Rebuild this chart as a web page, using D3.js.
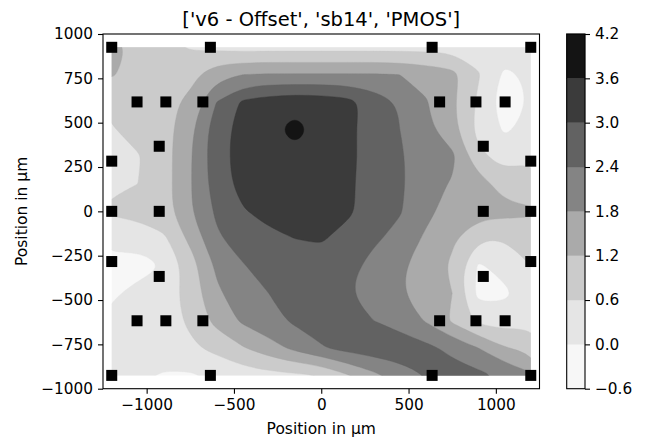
<!DOCTYPE html>
<html>
<head>
<meta charset="utf-8">
<script src="https://cdn.jsdelivr.net/npm/d3@7"></script>
<style>
body {margin: 0; background: #fff;}
text {font-family: "DejaVu Sans", sans-serif; fill: #000;}
</style>
</head>
<body>
<svg id="chart" width="649" height="438"></svg>
<script>
// contour levels (also the colorbar ticks)
var levels = [-0.6, 0.0, 0.6, 1.2, 1.8, 2.4, 3.0, 3.6, 4.2];

var gridX = [-1200, -1050, -900, -750, -600, -450, -300, -150, 0, 150, 300, 450, 600, 750, 900, 1050, 1200];
var gridY = [925, 770.8, 616.7, 462.5, 308.3, 154.2, 0, -154.2, -308.3, -462.5, -616.7, -770.8, -925];

// values per grid row, top row first
var gridValues = [
  [1.45, 1.0, 0.8, 0.55, 0.45, 0.4, 0.4, 0.4, 0.4, 0.4, 0.4, 0.4, 0.4, 0.4, 0.35, 0.3, 0.3],
  [1.25, 1.0, 0.95, 1.0, 1.6, 1.8, 1.85, 1.85, 1.85, 1.85, 1.85, 1.8, 1.6, 1.4, 0.65, -0.12, 0.1],
  [0.8, 0.9, 1.0, 1.35, 2.4, 3.1, 3.3, 3.4, 3.35, 3.2, 2.75, 2.35, 1.85, 1.3, 0.5, -0.35, 0.05],
  [0.55, 0.85, 0.95, 1.65, 2.75, 3.2, 3.45, 3.8, 3.4, 3.15, 2.7, 2.4, 1.95, 1.4, 0.4, -0.08, 0.15],
  [0.45, 0.55, 0.95, 1.75, 2.75, 3.25, 3.4, 3.45, 3.35, 3.15, 2.75, 2.5, 1.95, 1.95, 0.75, 0.35, 0.55],
  [0.5, 0.6, 0.95, 1.75, 2.7, 3.2, 3.35, 3.35, 3.35, 3.1, 2.75, 2.5, 2.0, 1.75, 1.5, 0.9, 0.8],
  [0.7, 0.85, 0.95, 1.75, 2.5, 2.95, 3.2, 3.3, 3.3, 3.1, 2.75, 2.45, 1.95, 1.55, 1.45, 1.4, 1.3],
  [0.15, 0.15, 0.5, 1.35, 2.3, 2.7, 2.85, 3.0, 3.05, 2.8, 2.5, 2.2, 1.7, 1.3, 0.65, 0.6, 0.85],
  [-0.12, -0.18, 0.0, 0.9, 1.9, 2.35, 2.7, 2.8, 2.8, 2.6, 2.2, 1.9, 1.5, 1.1, -0.08, 0.2, 0.6],
  [-0.08, 0.15, 0.3, 0.85, 1.7, 2.1, 2.4, 2.65, 2.65, 2.45, 2.0, 1.85, 1.5, 1.2, -0.2, -0.12, 0.35],
  [0.15, 0.3, 0.35, 0.7, 1.4, 1.9, 2.2, 2.5, 2.65, 2.6, 2.4, 2.15, 1.75, 1.1, 0.45, 0.3, 0.45],
  [0.3, 0.35, 0.4, 0.5, 0.75, 1.15, 1.55, 1.95, 2.35, 2.6, 2.75, 2.75, 2.55, 2.25, 1.8, 1.25, 1.0],
  [0.2, 0.15, -0.08, -0.08, 0.15, 0.3, 0.4, 0.5, 0.6, 1.15, 1.65, 2.1, 2.4, 2.65, 2.55, 2.3, 1.9]
];

// measurement sites
var pointX = [-1200, -635, 635, 1200, -1055, -890, -678, 678, 886, 1053, -928, 928, -1200, 1200,
              -1200, -928, 928, 1200, -1200, 1200, -928, 928, -1055, -890, -678, 678, 886, 1053,
              -1200, -635, 635, 1200];
var pointY = [925, 925, 925, 925, 617, 617, 617, 617, 617, 617, 367, 367, 283, 283,
              0, 0, 0, 0, -283, -283, -367, -367, -617, -617, -617, -617, -617, -617,
              -925, -925, -925, -925];

var xTicks = [-1000, -500, 0, 500, 1000];
var yTicks = [-1000, -750, -500, -250, 0, 250, 500, 750, 1000];
var title = "['v6 - Offset', 'sb14', 'PMOS']";

var colors = ["#f7f7f7", "#e5e5e5", "#cbcbcb", "#aaaaaa", "#848484", "#626262", "#3b3b3b", "#141414"];

var svg = d3.select('#chart');
var plotLeft = 103, plotRight = 539.5, plotTop = 34, plotBottom = 388.7;
var fs = 15.3;

var xScale = d3.scaleLinear().domain([-1250, 1250]).range([plotLeft, plotRight]);
var yScale = d3.scaleLinear().domain([-1000, 1000]).range([plotBottom, plotTop]);

// grid index -> um
var nx = gridX.length, ny = gridY.length;
var gxScale = d3.scaleLinear().domain([0, nx - 1]).range([gridX[0], gridX[nx - 1]]);
var gyScale = d3.scaleLinear().domain([0, ny - 1]).range([gridY[0], gridY[ny - 1]]);

var flat = [].concat.apply([], gridValues);
var bands = d3.contours().size([nx, ny]).thresholds(levels.slice(0, -1))(flat);

// soften the marching-squares outlines
var line = d3.line().curve(d3.curveBasisClosed);
function bandPath(mp) {
  return mp.coordinates.map(function(poly) {
    return poly.map(function(ring) {
      var pts = ring.slice(0, -1).map(p => [xScale(gxScale(p[0] - 0.5)), yScale(gyScale(p[1] - 0.5))]);
      return line(pts);
    }).join('');
  }).join('');
}

svg.append('clipPath').attr('id', 'dataclip')
  .append('rect')
  .attr('x', xScale(gridX[0])).attr('y', yScale(gridY[0]))
  .attr('width', xScale(gridX[nx - 1]) - xScale(gridX[0]))
  .attr('height', yScale(gridY[ny - 1]) - yScale(gridY[0]));

svg.append('g')
  .attr('clip-path', 'url(#dataclip)')
  .selectAll('path')
  .data(bands)
  .enter()
  .append('path')
  .attr('d', bandPath)
  .attr('fill-rule', 'evenodd')
  .attr('fill', (d, i) => colors[i])
  .attr('stroke', (d, i) => colors[i])
  .attr('stroke-width', 0.4);

// points
var ms = 11;
svg.append('g')
  .selectAll('rect')
  .data(pointX)
  .enter()
  .append('rect')
  .attr('x', (d, i) => xScale(d) - ms / 2)
  .attr('y', (d, i) => yScale(pointY[i]) - ms / 2)
  .attr('width', ms)
  .attr('height', ms)
  .attr('fill', '#000');

// axes
var xAxis = d3.axisBottom(xScale).tickValues(xTicks).tickSize(5).tickPadding(5).tickFormat(d3.format('d'));
var yAxis = d3.axisLeft(yScale).tickValues(yTicks).tickSize(5).tickPadding(5).tickFormat(d3.format('d'));

var xg = svg.append('g').attr('transform', 'translate(0,' + plotBottom + ')').call(xAxis);
var yg = svg.append('g').attr('transform', 'translate(' + plotLeft + ',0)').call(yAxis);
[xg, yg].forEach(function(g) {
  g.select('.domain').remove();
  g.selectAll('line').attr('stroke', '#000').attr('stroke-width', 1.1);
  g.selectAll('text').style('font-size', fs + 'px').attr('fill', '#000');
});

svg.append('rect')
  .attr('x', plotLeft).attr('y', plotTop)
  .attr('width', plotRight - plotLeft).attr('height', plotBottom - plotTop)
  .attr('fill', 'none').attr('stroke', '#000').attr('stroke-width', 1.1);

// labels
svg.append('text')
  .attr('x', (plotLeft + plotRight) / 2).attr('y', 26)
  .attr('text-anchor', 'middle')
  .style('font-size', '19.5px')
  .text(title);

svg.append('text')
  .attr('x', (plotLeft + plotRight) / 2).attr('y', 433.5)
  .attr('text-anchor', 'middle')
  .style('font-size', '15.5px')
  .text('Position in µm');

svg.append('text')
  .attr('transform', 'translate(26.5,' + (plotTop + plotBottom) / 2 + ') rotate(-90)')
  .attr('text-anchor', 'middle')
  .style('font-size', '15.5px')
  .text('Position in µm');

// colorbar
var cbLeft = 566.7, cbRight = 585;
var cScale = d3.scaleLinear().domain([levels[0], levels[levels.length - 1]]).range([plotBottom, plotTop]);
var cb = svg.append('g');
cb.selectAll('rect')
  .data(levels.slice(0, -1))
  .enter()
  .append('rect')
  .attr('x', cbLeft)
  .attr('y', (d, i) => cScale(levels[i + 1]))
  .attr('width', cbRight - cbLeft)
  .attr('height', (d, i) => cScale(d) - cScale(levels[i + 1]))
  .attr('fill', (d, i) => colors[i])
  .attr('stroke', (d, i) => colors[i])
  .attr('stroke-width', 0.3);

var cAxis = d3.axisRight(cScale).tickValues(levels).tickSize(5).tickPadding(5).tickFormat(d3.format('.1f'));
var cg = svg.append('g').attr('transform', 'translate(' + cbRight + ',0)').call(cAxis);
cg.select('.domain').remove();
cg.selectAll('line').attr('stroke', '#000').attr('stroke-width', 1.1);
cg.selectAll('text').style('font-size', fs + 'px').attr('fill', '#000');

cb.append('rect')
  .attr('x', cbLeft).attr('y', plotTop)
  .attr('width', cbRight - cbLeft).attr('height', plotBottom - plotTop)
  .attr('fill', 'none').attr('stroke', '#000').attr('stroke-width', 1.1);
</script>
</body>
</html>
